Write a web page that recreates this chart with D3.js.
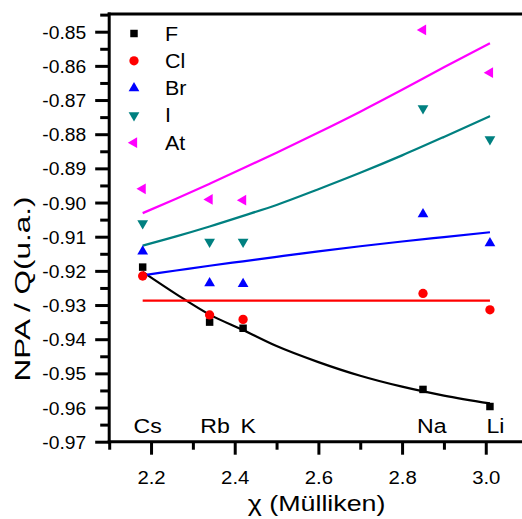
<!DOCTYPE html>
<html><head><meta charset="utf-8">
<script src="https://cdn.jsdelivr.net/npm/d3@7/dist/d3.min.js"></script>
<style>
html,body{margin:0;padding:0;background:#fff;}
svg text{font-family:"Liberation Sans",Arial,sans-serif;fill:#000;}
</style></head>
<body><svg id="c" width="522" height="519"></svg>
<script>
// ---- data ----
const elements = ["Cs", "Rb", "K", "Na", "Li"];
const chi = [2.18, 2.34, 2.42, 2.85, 3.01];
const seriesNames = ["F", "Cl", "Br", "I", "At"];
const valF  = [-0.9189, -0.9350, -0.9368, -0.9547, -0.9597];
const valCl = [-0.9215, -0.9329, -0.9342, -0.9266, -0.9314];
const valBr = [-0.9143, -0.9236, -0.9238, -0.9034, -0.9119];
const valI  = [-0.9061, -0.9115, -0.9115, -0.8724, -0.8815];
const valAt = [-0.8960, -0.8991, -0.8993, -0.8495, -0.8620];
// fitted curves
const fitX  = [2.18, 2.26, 2.34, 2.42, 2.50, 2.60, 2.70, 2.80, 2.90, 3.01];
const fitF  = [-0.9203, -0.9268, -0.9328, -0.9373, -0.9420, -0.9467, -0.9507, -0.9539, -0.9565, -0.9588];
const fitCl = [-0.9287, -0.9287, -0.9287, -0.9287, -0.9287, -0.9287, -0.9287, -0.9287, -0.9287, -0.9287];
const fitBr = [-0.9213, -0.9199, -0.9185, -0.9172, -0.9159, -0.9143, -0.9128, -0.9114, -0.9101, -0.9087];
const fitI  = [-0.9126, -0.9099, -0.9070, -0.9039, -0.9007, -0.8961, -0.8913, -0.8862, -0.8808, -0.8747];
const fitAt = [-0.9031, -0.8989, -0.8945, -0.8900, -0.8854, -0.8795, -0.8734, -0.8670, -0.8604, -0.8534];
const xTicks = [2.2, 2.4, 2.6, 2.8, 3.0];
const xMinor = [2.1, 2.3, 2.5, 2.7, 2.9];
const yTicks = [-0.85, -0.86, -0.87, -0.88, -0.89, -0.90, -0.91, -0.92, -0.93, -0.94, -0.95, -0.96, -0.97];
const yMinor = [-0.845, -0.855, -0.865, -0.875, -0.885, -0.895, -0.905, -0.915, -0.925, -0.935, -0.945, -0.955, -0.965];
const labelChi = [2.192, 2.353, 2.432, 2.871, 3.023];
const labelLevel = -0.9675;
const xTitle = "χ (Mülliken)";
const yTitle = "NPA / Q(u.a.)";

// ---- layout ----
const svg = d3.select("#c");
const x = d3.scaleLinear().domain([2.1, 3.1]).range([109.2, 527.6]);
const y = d3.scaleLinear().domain([-0.97, -0.85]).range([441.7, 31.7]);
const yTop = y.invert(14);
const colors = ["#000000", "#FF0000", "#0000FF", "#008080", "#FF00FF"];
const vals = [valF, valCl, valBr, valI, valAt];
const fits = [fitF, fitCl, fitBr, fitI, fitAt];

function markerPath(i) {
  if (i === 0) return d3.symbol().type(d3.symbolSquare).size(56)();
  if (i === 1) return d3.symbol().type(d3.symbolCircle).size(68)();
  return d3.symbol().type(d3.symbolTriangle).size(50)();
}
const rot = [0, 0, 0, 180, -90];

// fit lines
const line = d3.line().x(d => x(d[0])).y(d => y(d[1])).curve(d3.curveMonotoneX);
fits.forEach((f, i) => {
  svg.append("path")
    .attr("d", line(fitX.map((v, k) => [v, f[k]])))
    .attr("fill", "none").attr("stroke", colors[i]).attr("stroke-width", 2.2);
});

// points
vals.forEach((arr, i) => {
  svg.append("g").selectAll("path").data(arr).join("path")
    .attr("d", markerPath(i))
    .attr("transform", (d, k) => `translate(${x(chi[k])},${y(d)}) rotate(${rot[i]})`)
    .attr("fill", colors[i]);
});

// axes spines
const ax = svg.append("g").attr("stroke", "#000").attr("stroke-width", 3);
ax.append("line").attr("x1", x(2.1)).attr("x2", x(2.1)).attr("y1", y(yTop) - 1.5).attr("y2", y(-0.97) + 1.5);
ax.append("line").attr("x1", x(2.1) - 1.5).attr("x2", 522).attr("y1", y(-0.97)).attr("y2", y(-0.97));
ax.append("line").attr("x1", x(2.1) - 1.5).attr("x2", 522).attr("y1", y(yTop)).attr("y2", y(yTop));

// y axis ticks + labels
const yAxis = d3.axisLeft(y).tickValues(yTicks).tickSize(14).tickPadding(10)
  .tickFormat(d3.format(".2f"));
const gy = svg.append("g").attr("transform", `translate(${x(2.1)},0)`).call(yAxis);
const gyMinor = svg.append("g").attr("transform", `translate(${x(2.1)},0)`)
  .call(d3.axisLeft(y).tickValues(yMinor).tickSize(9).tickFormat(""));
[gy, gyMinor].forEach(g => {
  g.select(".domain").remove();
  g.selectAll(".tick line").attr("stroke-width", 3);
});
gy.selectAll(".tick text").attr("font-size", 18)
  .attr("font-family", "Liberation Sans, Arial, sans-serif")
  .attr("x", null).attr("dy", null)
  .attr("transform", "translate(-23,6.5) scale(1.07,1)").attr("text-anchor", "end")
  .text(d => d3.format(".2f")(d).replace("−", "-"));

// x axis ticks + labels
const gx = svg.append("g").attr("transform", `translate(0,${y(-0.97)})`)
  .call(d3.axisBottom(x).tickValues(xTicks).tickSize(13).tickPadding(15).tickFormat(d3.format(".1f")));
const gxMinor = svg.append("g").attr("transform", `translate(0,${y(-0.97)})`)
  .call(d3.axisBottom(x).tickValues(xMinor).tickSize(8).tickFormat(""));
[gx, gxMinor].forEach(g => {
  g.select(".domain").remove();
  g.selectAll(".tick line").attr("stroke-width", 3);
});
gx.selectAll(".tick text").attr("font-size", 18)
  .attr("font-family", "Liberation Sans, Arial, sans-serif")
  .attr("y", null).attr("dy", null)
  .attr("transform", "translate(0,42) scale(1.13,1)");

// element labels
svg.append("g").selectAll("text").data(elements).join("text")
  .attr("transform", (d, k) => `translate(${x(labelChi[k])},${y(labelLevel)}) scale(1.1,1)`)
  .attr("text-anchor", "middle").attr("font-size", 21).text(d => d);

// legend
const lg = svg.append("g");
seriesNames.forEach((n, i) => {
  const yy = 33.5 + i * 27.3;
  lg.append("path").attr("d", markerPath(i))
    .attr("transform", `translate(134,${yy}) rotate(${rot[i]})`).attr("fill", colors[i]);
  lg.append("text").attr("transform", `translate(165,${yy + 7}) scale(1.1,1)`)
    .attr("font-size", 19.5).text(n);
});

// axis titles
svg.append("text").attr("transform", `translate(${(x(2.1) + 522) / 2 + 1},511) scale(1.22,1)`)
  .attr("text-anchor", "middle").attr("font-size", 22).text(xTitle);
svg.append("text").attr("transform", "translate(30,289) rotate(-90) scale(1.4,1)")
  .attr("text-anchor", "middle").attr("font-size", 22.5).text(yTitle);
</script></body></html>
